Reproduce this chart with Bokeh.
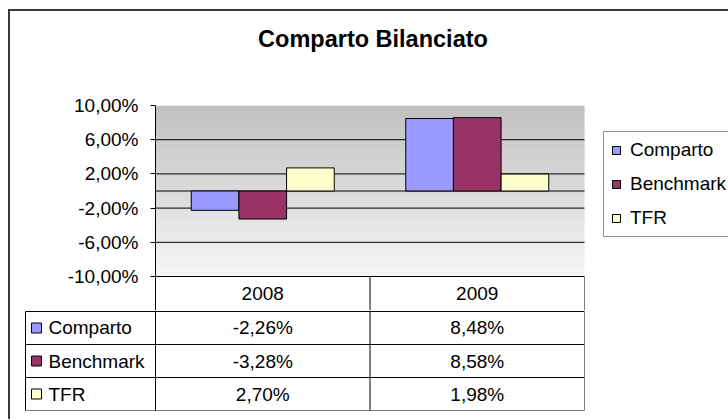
from bokeh.plotting import figure
from bokeh.models import (Range1d, FixedTicker, CustomJSTickFormatter,
                          BoxAnnotation, ColumnDataSource, Div)
from bokeh.layouts import column
from bokeh.embed import file_html
from bokeh.resources import INLINE
from bokeh.core.properties import value

# ---------------- data ----------------
title = "Comparto Bilanciato"
years = ["2008", "2009"]
series = ["Comparto", "Benchmark", "TFR"]
comparto = [-2.26, 8.48]
benchmark = [-3.28, 8.58]
tfr = [2.70, 1.98]
y_ticks = [-10, -6, -2, 2, 6, 10]
colors = ["#9999FF", "#993366", "#FFFFCC"]

values = {"Comparto": comparto, "Benchmark": benchmark, "TFR": tfr}

# ---------------- layout constants (page pixels) ----------------
FONT = "Liberation Sans"
FS = "19px"
OX, OY = 10, 11            # content origin after outer border
TOTAL_W = 718
TITLE_H = 50
FRAME_L, FRAME_R, FRAME_T, FRAME_B = 155, 584, 105, 276
HDR_B = 310                # bottom of the header row (years)
TABLE_L, TABLE_B = 25, 410
PAGE_B = 419
CANVAS_R = OX + TOTAL_W


def pct(v):
    return f"{v:.2f}".replace(".", ",") + "%"


n_cat = len(years)
u = (FRAME_R - FRAME_L) / n_cat          # px per category
cat_x = [i + 0.5 for i in range(n_cat)]  # category centres on the x scale

# ---------------- title ----------------
head = Div(text=title, width=TOTAL_W, height=TITLE_H, margin=0,
           styles={"font-family": FONT, "font-size": "23.5px", "font-weight": "bold",
                   "color": "black", "text-align": "center", "line-height": "27px",
                   "padding-top": "15px", "padding-left": "8px",
                   "box-sizing": "border-box"})

# ---------------- chart ----------------
y0, y1 = min(y_ticks), max(y_ticks)
ppu = (FRAME_B - FRAME_T) / (y1 - y0)
hdr_units = (HDR_B - FRAME_B) / ppu

p = figure(x_range=Range1d(0, (CANVAS_R - FRAME_L) / u),
           y_range=Range1d(y0 - hdr_units, y1),
           width=TOTAL_W, height=HDR_B - OY - TITLE_H, output_backend="svg",
           toolbar_location=None, frame_align=False,
           min_border_left=FRAME_L - OX, min_border_right=0,
           min_border_top=FRAME_T - OY - TITLE_H, min_border_bottom=0)
p.outline_line_color = None
p.background_fill_color = "white"
p.border_fill_color = "white"
p.xaxis.visible = False
p.xgrid.visible = False
p.ygrid.visible = False

# gradient background of plot area
n_steps = 60
top_rgb = (192, 192, 192)
bot_rgb = (246, 246, 246)
for k in range(n_steps):
    b = y0 + (y1 - y0) * k / n_steps
    t_ = y0 + (y1 - y0) * (k + 1.3) / n_steps
    f = k / (n_steps - 1)
    rgb = tuple(int(round(bot_rgb[i] + (top_rgb[i] - bot_rgb[i]) * f)) for i in range(3))
    p.add_layout(BoxAnnotation(left=0, right=n_cat, bottom=b, top=min(t_, y1),
                               fill_color="#%02x%02x%02x" % rgb,
                               fill_alpha=1, line_color=None, level="image"))

# gridlines (and the zero line) across the plot area only
grid_y = [t for t in y_ticks if t < y1] + [0]
p.segment(x0=[0] * len(grid_y), y0=grid_y, x1=[n_cat] * len(grid_y), y1=grid_y,
          line_color="black", line_width=1)

bar_w = 1 / 4.5
for i, s in enumerate(series):
    off = (i - (len(series) - 1) / 2) * bar_w
    src = ColumnDataSource(dict(x=[c + off for c in cat_x], top=values[s]))
    p.vbar(x="x", top="top", bottom=0, width=bar_w, source=src,
           fill_color=colors[i], line_color="black", line_width=1, legend_label=s)

p.yaxis.ticker = FixedTicker(ticks=y_ticks)
p.yaxis.formatter = CustomJSTickFormatter(code="return tick.toFixed(2).replace('.', ',') + '%';")
p.yaxis.major_label_text_font = FONT
p.yaxis.major_label_text_font_size = FS
p.yaxis.major_label_text_color = "black"
p.yaxis.major_tick_out = 5
p.yaxis.major_tick_in = 0
p.yaxis.minor_tick_line_color = None
p.yaxis.axis_line_color = "black"
p.yaxis.major_tick_line_color = "black"
p.yaxis.major_label_standoff = 12

# header row of the data table (years), below the plot area
hdr_mid = y0 - hdr_units / 2
p.text(x=cat_x, y=[hdr_mid] * n_cat, text=years, text_align="center",
       text_baseline="middle", text_font=value(FONT), text_font_size=FS,
       text_color="black")
bx = list(range(1, n_cat + 1))
p.segment(x0=bx, y0=[y0 - hdr_units] * len(bx), x1=bx, y1=[y0] * len(bx),
          line_color=["black"] * (len(bx) - 1) + ["#7f7f7f"], line_width=1)

lg = p.legend[0]
lg.location = (603 - FRAME_L, HDR_B - 237)
lg.label_text_font = FONT
lg.label_text_font_size = FS
lg.label_text_color = "black"
lg.glyph_width = 10
lg.glyph_height = 10
lg.label_height = 21
lg.label_standoff = 9
lg.spacing = 12
lg.padding = 7
lg.margin = 0
lg.label_width = 110
lg.border_line_color = "#222222"
lg.border_line_width = 1
lg.background_fill_color = "white"
lg.background_fill_alpha = 1

# ---------------- data table rows ----------------
n_rows = len(series)
w = (FRAME_L - TABLE_L) / u                   # label column width in units
uy = (TABLE_B - HDR_B) / n_rows
ex, ey = 1 / u, 1 / uy

t = figure(x_range=Range1d(-w - ex, n_cat + ex), y_range=Range1d(-ey, n_rows + ey),
           width=TOTAL_W, height=PAGE_B - HDR_B, output_backend="svg",
           toolbar_location=None, frame_align=False,
           min_border_left=TABLE_L - 1 - OX, min_border_right=CANVAS_R - FRAME_R - 1,
           min_border_top=0, min_border_bottom=PAGE_B - TABLE_B - 1)
t.xaxis.visible = False
t.yaxis.visible = False
t.xgrid.visible = False
t.ygrid.visible = False
t.outline_line_color = None
t.border_fill_color = "white"
t.background_fill_color = "white"

# horizontal lines
hy = list(range(n_rows + 1))
hc = ["#7f7f7f"] + ["black"] * n_rows
t.segment(x0=[-w] * len(hy), y0=hy, x1=[n_cat] * len(hy), y1=hy,
          line_color=hc, line_width=1)
# vertical lines
vx = [-w] + list(range(n_cat + 1))
vc = ["black"] * (len(vx) - 1) + ["#7f7f7f"]
t.segment(x0=vx, y0=[0] * len(vx), x1=vx, y1=[n_rows] * len(vx), line_color=vc,
          line_width=1)

for r, s in enumerate(series):
    yc = n_rows - r - 0.5
    t.text(x=cat_x, y=[yc] * n_cat,
           text=[pct(v) for v in values[s]], text_align="center", text_baseline="middle",
           text_font=value(FONT), text_font_size=FS, text_color="black")
    t.rect(x=[-w + 11 / u], y=[yc], width=10, height=10, width_units="screen",
           height_units="screen", fill_color=colors[r], line_color="black", line_width=1)
    t.text(x=[-w + 23 / u], y=[yc], text=[s], text_align="left", text_baseline="middle",
           text_font=value(FONT), text_font_size=FS, text_color="black")

layout = column(head, p, t, spacing=0,
                styles={"border-left": "2px solid #3a3a3a", "border-top": "2px solid #3a3a3a",
                        "margin-left": "8px", "margin-top": "9px"})

open("out.html", "w").write(file_html(layout, INLINE))
